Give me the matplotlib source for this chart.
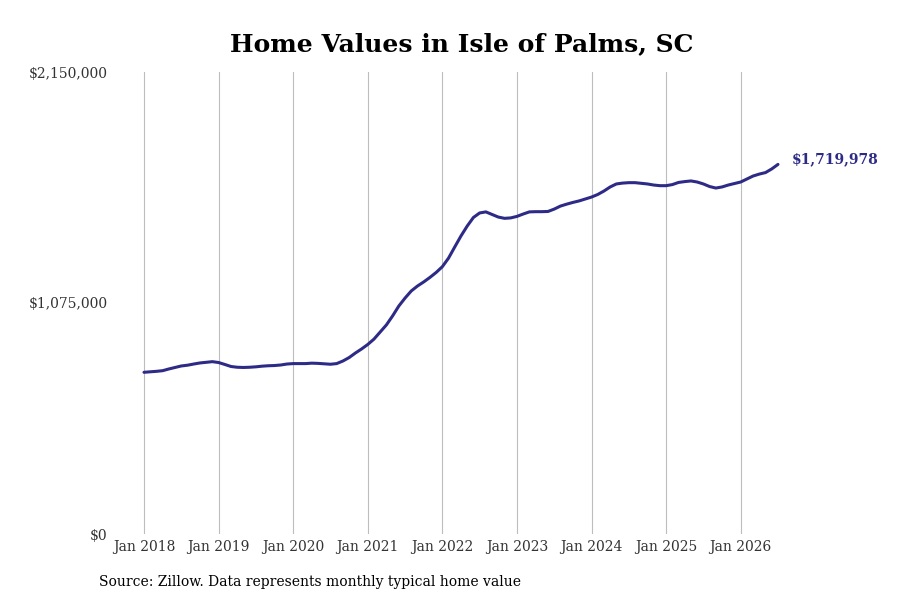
import matplotlib
matplotlib.use("Agg")
from matplotlib import pyplot as plt
from matplotlib.ticker import FuncFormatter
import pandas as pd

plt.rcParams['font.family'] = ['DejaVu Serif']

LINE = "#2e2b87"
GRID = "#bdbdbd"
TEXT = "#333333"

# monthly typical home value, Jan 2018 - Jul 2026
values = [
    752500, 754800, 757000, 760000, 768000, 775000, 782000, 785500, 791000, 796000, 799000, 802000,
    798000, 789000, 779500, 776000, 775000, 776000, 778000, 781000, 783000, 784000, 786500, 791000,
    793000, 793000, 793000, 795000, 794000, 792000, 790000, 793000, 805000, 821000, 842000, 861000,
    882000, 907000, 940000, 973000, 1015000, 1061000, 1098000, 1131000, 1154000, 1173000, 1194000, 1217000,
    1244000, 1284000, 1336000, 1387000, 1433000, 1473000, 1494000, 1499000, 1487000, 1475000, 1469000, 1471000,
    1478000, 1489000, 1499000, 1500000, 1500000, 1501000, 1512000, 1526000, 1535000, 1543000, 1550000, 1559000,
    1568000, 1580000, 1596000, 1615000, 1629000, 1633000, 1635000, 1635000, 1632000, 1629000, 1624000, 1621000,
    1621000, 1626000, 1636000, 1640000, 1643000, 1638000, 1629000, 1617000, 1610000, 1615000, 1624000, 1631000,
    1638000, 1652000, 1666000, 1675000, 1682000, 1699000, 1719978,
]
dates = pd.date_range("2018-01-01", periods=len(values), freq="MS")
tick_years = list(range(2018, 2027))
y_ticks = [0, 1075000, 2150000]

months = list(range(len(values)))
tick_pos = [(y - 2018) * 12 for y in tick_years]
tick_labels = ["Jan %d" % y for y in tick_years]

fig = plt.figure(figsize=(9, 6), dpi=100)
ax = fig.add_axes([120 / 900, 66 / 600, 665 / 900, 462 / 600])

ax.plot(months, values, color=LINE, linewidth=2.2, solid_capstyle="round")

ax.set_xlim(-3.86, 103.13)
ax.set_ylim(0, 2150000)
ax.set_xticks(tick_pos)
ax.set_xticklabels(tick_labels)
ax.set_yticks(y_ticks)
ax.yaxis.set_major_formatter(FuncFormatter(lambda v, p: "${:,.0f}".format(v)))
ax.grid(axis="x", color=GRID, linewidth=0.8)
ax.set_axisbelow(True)
for s in ax.spines.values():
    s.set_visible(False)
ax.tick_params(axis="both", length=0, labelcolor=TEXT, labelsize=10)
ax.tick_params(axis="y", pad=9)
ax.tick_params(axis="x", pad=4)

ax.annotate("${:,.0f}".format(values[-1]), (months[-1], values[-1]),
            xytext=(14, 5), textcoords="offset pixels", color=LINE,
            fontsize=10, fontweight="bold", va="center", ha="left")

fig.text(0.5128, 0.926, "Home Values in Isle of Palms, SC", ha="center", va="center",
         fontsize=18, fontweight="bold", color="black")
fig.text(99 / 900, 1 - 582 / 600, "Source: Zillow. Data represents monthly typical home value",
         ha="left", va="center", fontsize=10, color="black")

plt.savefig("out.png", dpi=100)
